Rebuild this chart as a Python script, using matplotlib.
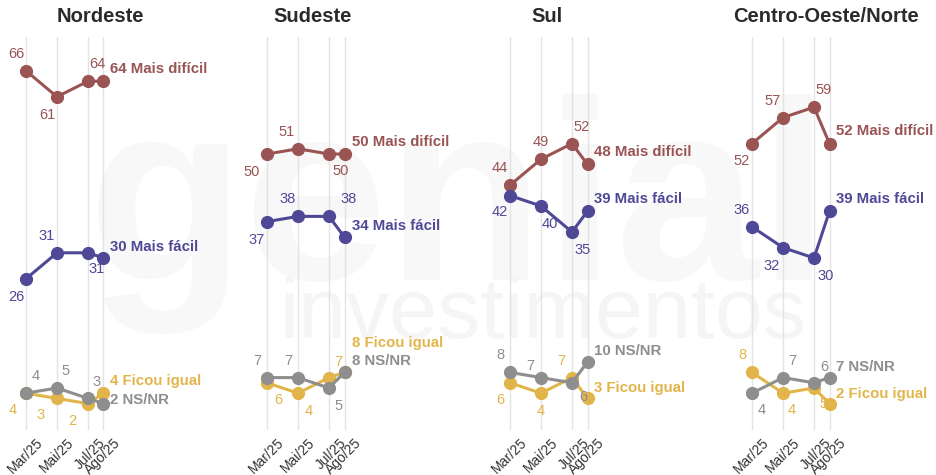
import matplotlib.pyplot as plt
from matplotlib.transforms import ScaledTranslation

plt.rcParams['font.family'] = ['Liberation Sans', 'DejaVu Sans']

# ---------- data ----------
regioes = ["Nordeste", "Sudeste", "Sul", "Centro-Oeste/Norte"]
meses = [3, 5, 7, 8]
meses_labels = ["Mar/25", "Mai/25", "Jul/25", "Ago/25"]

series_nomes = ["Mais difícil", "Mais fácil", "Ficou igual", "NS/NR"]

mais_dificil = [[66, 61, 64, 64], [50, 51, 50, 50], [44, 49, 52, 48], [52, 57, 59, 52]]
mais_facil = [[26, 31, 31, 30], [37, 38, 38, 34], [42, 40, 35, 39], [36, 32, 30, 39]]
ficou_igual = [[4, 3, 2, 4], [6, 4, 7, 8], [6, 4, 7, 3], [8, 4, 5, 2]]
ns_nr = [[4, 5, 3, 2], [7, 7, 5, 8], [8, 7, 6, 10], [4, 7, 6, 7]]

# ---------- style ----------
cores = ["#9a5454", "#4f4896", "#e2b54a", "#8e8e8e"]
W, H = 936, 475
px_mes = 15.5
mar_px = [26, 267, 510, 752]
titulo_px = [100, 313, 547, 826]
ax_top, ax_bot = 37, 430
y0_px, px_un = 414, 5.2

# label offsets (px) for Mar, Mai, Jul: (dx, dy) ; dy>0 means up
off = {
    0: [[(-10, 17), (-10, -18), (9, 17)],
        [(-10, -18), (-10, 17), (9, -16)],
        [(-13, -17), (-16, -17), (-16, -17)],
        [(10, 17), (9, 17), (9, 16)]],
    1: [[(-15, -18), (-11, 17), (12, -17)],
        [(-10, -18), (-10, 17), (20, 17)],
        [(11, -17), (11, -18), (9, 16)],
        [(-10, 17), (-10, 17), (10, -18)]],
    2: [[(-10, 17), (0, 17), (10, 17)],
        [(-10, -16), (9, -18), (11, -18)],
        [(-10, -17), (0, -18), (-11, 17)],
        [(-10, 17), (-11, 12), (11, -14)]],
    3: [[(-10, -17), (-10, 17), (10, 17)],
        [(-10, 17), (-11, -18), (12, -18)],
        [(-10, 17), (9, -17), (10, -16)],
        [(10, -17), (9, 17), (10, 16)]],
}
# end label vertical offsets (px)
end_dy = {
    0: [12, 11, 12, 4],
    1: [12, 11, 29, 11],
    2: [12, 12, 10, 11],
    3: [13, 12, 10, 11],
}

fig = plt.figure(figsize=(W / 100, H / 100), dpi=100)
fig.patch.set_facecolor("white")

# faint watermark
fig.text(0.49, 0.55, "genial", fontsize=185, fontweight="bold", color="#f8f8f8",
         ha="center", va="center", zorder=0)
fig.text(0.58, 0.335, "investimentos", fontsize=62, color="#f5f5f5",
         ha="center", va="center", zorder=0)

ylo = (y0_px - ax_bot) / px_un
yhi = (y0_px - ax_top) / px_un
shift = ScaledTranslation(10 / 100, 0, fig.dpi_scale_trans)

for i, reg in enumerate(regioes):
    left = 234 * i
    ax = fig.add_axes([left / W, (H - ax_bot) / H, 234 / W, (ax_bot - ax_top) / H])
    ax.set_zorder(2)
    ax.patch.set_alpha(0)
    x0 = meses[0] - (mar_px[i] - left) / px_mes
    ax.set_xlim(x0, x0 + 234 / px_mes)
    ax.set_ylim(ylo, yhi)
    for s in ax.spines.values():
        s.set_visible(False)
    ax.set_yticks([])
    ax.set_xticks(meses)
    ax.set_xticklabels(meses_labels, rotation=45, ha="right", rotation_mode="anchor",
                       fontsize=10, color="#333333")
    ax.tick_params(axis="x", length=0, pad=4)
    for lab in ax.get_xticklabels():
        lab.set_transform(lab.get_transform() + shift)
    for m in meses:
        ax.axvline(m, color="#e3e3e3", lw=1, zorder=1)

    dados = [mais_dificil[i], mais_facil[i], ficou_igual[i], ns_nr[i]]
    ordem = [2, 3, 1, 0]
    for k in ordem:
        vals = dados[k]
        ax.plot(meses, vals, color=cores[k], lw=2.2, marker="o", markersize=8.5,
                zorder=3 + k, solid_capstyle="round")
        for j in range(3):
            dx, dy = off[i][k][j]
            ax.annotate(str(vals[j]), (meses[j], vals[j]),
                        xytext=(dx * 0.72, dy * 0.72), textcoords="offset points",
                        ha="center", va="center", fontsize=10.5, color=cores[k],
                        zorder=10)
        ax.annotate(f"{vals[-1]} {series_nomes[k]}", (meses[-1], vals[-1]),
                    xytext=(7 * 0.72, end_dy[i][k] * 0.72), textcoords="offset points",
                    ha="left", va="center", fontsize=10.8, fontweight="bold",
                    color=cores[k], zorder=10)

    fig.text(titulo_px[i] / W, 1 - 17 / H, reg, fontsize=14.5, fontweight="bold",
             color="#2b2b2b", ha="center", va="center")

fig.savefig("out.png", dpi=100)
